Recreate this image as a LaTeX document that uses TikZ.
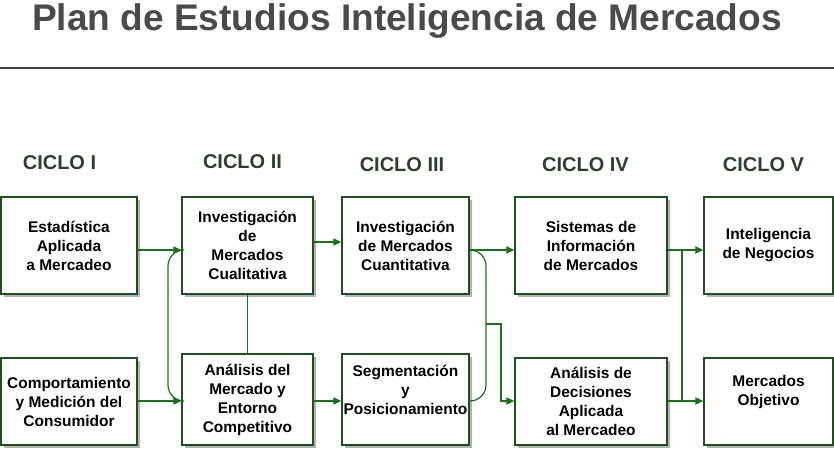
\documentclass[tikz,border=0pt]{standalone}
\usepackage{fontspec}
\setmainfont{Liberation Sans}
\usetikzlibrary{arrows.meta}
\usetikzlibrary{shadows}

\definecolor{boxgreen}{HTML}{1F4F1F}
\definecolor{flowgreen}{HTML}{1E6E1E}
\definecolor{ciclogray}{HTML}{2F3F2F}
\definecolor{titlegray}{HTML}{4A4A4A}

\tikzset{
    box/.style={draw=boxgreen, line width=1.1pt, fill=white, inner sep=0pt,
                align=center, font=\bfseries\fontsize{11.6}{14.25}\selectfont,
                drop shadow={shadow xshift=2.2pt, shadow yshift=-2.2pt,
                             fill=black, opacity=0.3}},
    boxtext/.style={align=center, inner sep=0pt,
                font=\bfseries\fontsize{11.6}{14.25}\selectfont},
    ciclo/.style={anchor=base, text=ciclogray, inner sep=0pt,
                font=\bfseries\fontsize{15}{18}\selectfont},
    link/.style={draw=flowgreen, line width=0.9pt},
    flow/.style={link, -{Triangle[length=6pt, width=5.5pt]}},
}

\begin{document}
\begin{tikzpicture}[x=0.75pt, y=-0.75pt]
    \useasboundingbox (0,0) rectangle (834,452);

    % title
    \node[anchor=base, text=titlegray, inner sep=0pt,
          font=\bfseries\fontsize{27.8}{30}\selectfont] (title) at (407,31)
        {Plan de Estudios Inteligencia de Mercados};
    \draw[line width=1.1pt, color=titlegray!85!black] (0,68) -- (834,68);

    % cycles
    \node[ciclo] (c1) at (59.5,170) {CICLO I};
    \node[ciclo] (c2) at (242.5,169) {CICLO II};
    \node[ciclo] (c3) at (402,172) {CICLO III};
    \node[ciclo] (c4) at (585.5,172) {CICLO IV};
    \node[ciclo] (c5) at (763.5,172) {CICLO V};

    % upper row
    \node[box, minimum width=102pt, minimum height=72.75pt] (est) at (69,245.5)
        {Estadística\\Aplicada\\a Mercadeo};
    \node[box, minimum width=98.25pt, minimum height=72.75pt] (invcual) at (247.5,245.5)
        {Investigación\\de\\Mercados\\Cualitativa};
    \node[box, minimum width=95.25pt, minimum height=72.75pt] (invcuan) at (405.5,245.5)
        {Investigación\\de Mercados\\Cuantitativa};
    \node[box, minimum width=114pt, minimum height=72.75pt] (sist) at (591,245.5)
        {Sistemas de\\Información\\de Mercados};
    \node[box, minimum width=96.75pt, minimum height=72.75pt] (intel) at (768.5,245.5)
        {Inteligencia\\de Negocios};

    % lower row
    \node[box, minimum width=102pt, minimum height=65.25pt] (comp) at (69,401.5)
        {Comportamiento\\y Medición del\\Consumidor};
    \node[box, minimum width=98.25pt, minimum height=68.25pt] (anal) at (247.5,399.5)
        {Análisis del\\Mercado y\\Entorno\\Competitivo};
    \node[box, minimum width=95.25pt, minimum height=68.25pt] (seg) at (405.5,399.5) {};
    \node[boxtext] (segtxt) at (405.5,390) {Segmentación\\y\\Posicionamiento};
    \node[box, minimum width=114pt, minimum height=65.25pt] (dec) at (591,401.5)
        {Análisis de\\Decisiones\\Aplicada\\al Mercadeo};
    \node[box, minimum width=96.75pt, minimum height=65.25pt] (merc) at (768.5,401.5) {};
    \node[boxtext] (merctxt) at (768.5,392) {Mercados\\Objetivo};

    % junctions
    \coordinate (jl) at (168,325);
    \coordinate (jr) at (486,324);
    \coordinate (jd) at (501,401);
    \coordinate (jv) at (682,250);

    % connectors
    \draw[flow] (est.east |- 0,250) -- (invcual.west |- 0,250);
    \draw[flow] (comp.east |- 0,401) -- (anal.west |- 0,401);
    \draw[link, rounded corners=12] (invcual.west |- 0,250) -| (jl) |- (anal.west |- 0,401);
    \draw[link] (invcual.south) -- (anal.north);
    \draw[flow] (invcual.east |- 0,242) -- (invcuan.west |- 0,242);
    \draw[flow] (anal.east |- 0,401) -- (seg.west |- 0,401);

    \draw[flow] (invcuan.east |- 0,250) -- (sist.west |- 0,250);
    \draw[link, rounded corners=12] (invcuan.east |- 0,250) -| (jr) |- (seg.east |- 0,401);
    \draw[flow] (jr) -| (jd) -- (dec.west |- jd);

    \draw[flow] (sist.east |- jv) -- (intel.west |- jv);
    \draw[link] (jv) -- (jv |- 0,401);
    \draw[flow] (dec.east |- 0,401) -- (merc.west |- 0,401);

\end{tikzpicture}
\end{document}
